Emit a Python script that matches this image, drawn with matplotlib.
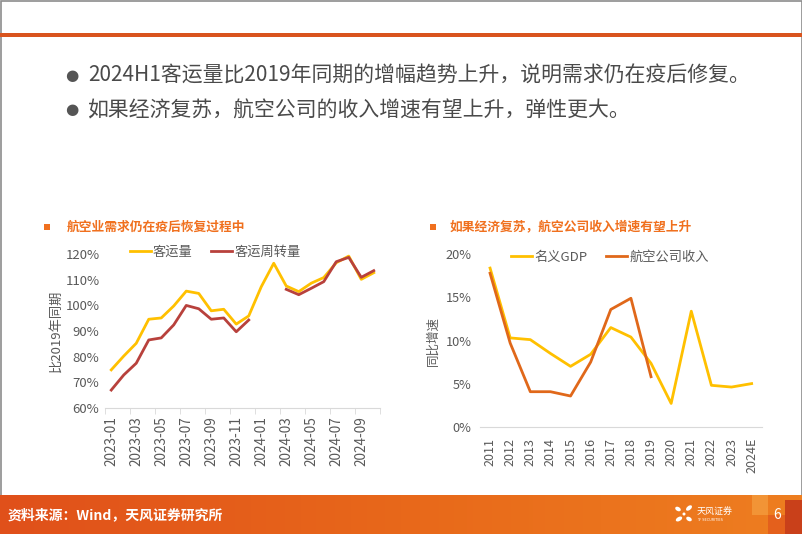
import numpy as np
import matplotlib
matplotlib.use('Agg')
import matplotlib.pyplot as plt
from matplotlib.patches import Rectangle, Ellipse

plt.rcParams['font.family'] = ['Noto Sans CJK SC', 'DejaVu Sans']

# left chart: passenger volume vs 2019 (monthly)
months = ['2023-01', '2023-02', '2023-03', '2023-04', '2023-05', '2023-06',
          '2023-07', '2023-08', '2023-09', '2023-10', '2023-11', '2023-12',
          '2024-01', '2024-02', '2024-03', '2024-04', '2024-05', '2024-06',
          '2024-07', '2024-08', '2024-09', '2024-10']
passengers = [74.8, 80.2, 85.2, 94.6, 95.1, 99.8, 105.6, 104.7, 97.9, 98.5, 92.7, 95.9,
              107.3, 116.5, 107.6, 105.4, 108.7, 110.9, 116.7, 119.3, 110.2, 112.8]
rpk = [66.9, 72.8, 77.4, 86.5, 87.3, 92.4, 100.0, 98.7, 94.6, 95.1, 89.7, 94.3,
       np.nan, np.nan, 106.3, 104.2, 106.7, 109.3, 117.1, 118.8, 111.0, 113.6]

# right chart: nominal GDP growth vs airline revenue growth
years = ['2011', '2012', '2013', '2014', '2015', '2016', '2017', '2018', '2019',
         '2020', '2021', '2022', '2023', '2024E']
gdp = [18.4, 10.3, 10.1, 8.5, 7.0, 8.4, 11.5, 10.4, 7.35, 2.7, 13.4, 4.8, 4.6, 5.0]
airline = [17.8, 9.7, 4.06, 4.06, 3.56, 7.5, 13.6, 14.9, 5.8,
           np.nan, np.nan, np.nan, np.nan, np.nan]

W, H = 802, 534
fig = plt.figure(figsize=(W / 100, H / 100), dpi=100)

# background layer in pixel coords
bg = fig.add_axes([0, 0, 1, 1], zorder=-1)
bg.set_xlim(0, W)
bg.set_ylim(H, 0)
bg.axis('off')

bg.add_patch(Rectangle((0.5, 0.5), W - 1, H - 1, fill=False, edgecolor='#8c8c8c', lw=1.2))
bg.add_patch(Rectangle((0, 33), W, 4, color='#D9541E', lw=0))

grad = np.linspace(0, 1, 256).reshape(1, -1)
cmap = matplotlib.colors.LinearSegmentedColormap.from_list('ft', ['#E0501A', '#E8681A', '#EE7E20'])
bg.imshow(grad, extent=(0, W, H, 495), aspect='auto', cmap=cmap, zorder=1)
bg.add_patch(Rectangle((752, 495), 16, 20, color='#F29436', lw=0, zorder=2))
bg.add_patch(Rectangle((768, 515), 17, 19, color='#E4601C', lw=0, zorder=2))
bg.add_patch(Rectangle((785, 500), 17, 34, color='#C9401A', lw=0, zorder=2))
bg.text(8, 515, '资料来源：Wind，天风证券研究所', color='white', fontsize=10,
        fontweight='bold', va='center', ha='left', zorder=3)
bg.text(777, 515, '6', color='white', fontsize=10, va='center', ha='center', zorder=3)
# logo
for dx, dy, w, h, a in [(-6, -5, 6, 4, 30), (5, -6, 7, 4, -40), (-5, 5, 7, 4, -30),
                        (5, 5, 6, 4, 30), (0, 0, 3, 3, 0)]:
    bg.add_patch(Ellipse((684 + dx, 514 + dy), w, h, angle=a, color='white', lw=0, zorder=3))
bg.text(697, 511, '天风证券', color='white', fontsize=6.5, va='center', ha='left', zorder=3)
bg.text(697, 520, 'TF SECURITIES', color='white', fontsize=2.5, va='center', ha='left',
        zorder=3, family='DejaVu Sans')

# bullets
bullets = ['2024H1客运量比2019年同期的增幅趋势上升，说明需求仍在疫后修复。',
           '如果经济复苏，航空公司的收入增速有望上升，弹性更大。']
for yy, txt in zip([76, 110], bullets):
    bg.text(72, yy, '●', color='#555555', fontsize=11, va='center', ha='center',
            family='DejaVu Sans')
    bg.text(88, yy, txt, color='#4a4a4a', fontsize=15, va='center', ha='left')

# chart titles
title_col = '#F0701E'
bg.add_patch(Rectangle((44, 224), 6, 6, color=title_col, lw=0))
bg.text(67, 227, '航空业需求仍在疫后恢复过程中', color=title_col, fontsize=9.2,
        fontweight='bold', va='center', ha='left')
bg.add_patch(Rectangle((430, 224), 6, 6, color=title_col, lw=0))
bg.text(450, 227, '如果经济复苏，航空公司收入增速有望上升', color=title_col, fontsize=9.2,
        fontweight='bold', va='center', ha='left')

grey = '#595959'
axis_col = '#D9D9D9'

# left chart
ax1 = fig.add_axes([105 / W, 1 - 407.7 / H, 275 / W, 153.4 / H])
x1 = np.arange(len(months))
ax1.plot(x1, passengers, color='#FFC000', lw=2, label='客运量')
ax1.plot(x1, rpk, color='#B8413C', lw=2, label='客运周转量')
ax1.set_xlim(-0.5, len(months) - 0.5)
ax1.set_ylim(60, 120)
ax1.set_yticks(np.arange(60, 121, 10))
ax1.set_yticklabels(['{}%'.format(v) for v in range(60, 121, 10)])
ax1.set_xticks(x1[::2])
ax1.set_xticklabels(months[::2], rotation=90)
ax1.set_xticks(np.arange(-0.5, len(months), 2), minor=True)
ax1.tick_params(axis='x', which='major', length=0, pad=6, labelsize=9.8, colors=grey)
ax1.tick_params(axis='x', which='minor', length=4, color=axis_col)
ax1.tick_params(axis='y', length=0, labelsize=9.5, colors=grey, pad=4)
ax1.set_ylabel('比2019年同期', fontsize=9.5, color=grey, labelpad=2)
for s in ['top', 'right', 'left']:
    ax1.spines[s].set_visible(False)
ax1.spines['bottom'].set_color(axis_col)
ax1.legend(loc='center', bbox_to_anchor=(215 / W, 1 - 252 / H), bbox_transform=fig.transFigure,
           ncol=2, frameon=False, fontsize=9.5, handlelength=1.6, handletextpad=0.15,
           columnspacing=1.4, labelcolor=grey)

# right chart
ax2 = fig.add_axes([480 / W, 1 - 426.7 / H, 281.7 / W, 172.4 / H])
x2 = np.arange(len(years))
ax2.plot(x2, gdp, color='#FFC000', lw=2, label='名义GDP')
ax2.plot(x2, airline, color='#E0681A', lw=2, label='航空公司收入')
ax2.set_xlim(-0.5, len(years) - 0.5)
ax2.set_ylim(0, 20)
ax2.set_yticks(np.arange(0, 21, 5))
ax2.set_yticklabels(['{}%'.format(v) for v in range(0, 21, 5)])
ax2.set_xticks(x2)
ax2.set_xticklabels(years, rotation=90)
ax2.tick_params(axis='x', length=0, pad=8, labelsize=9, colors=grey)
ax2.tick_params(axis='y', length=0, labelsize=9.2, colors=grey, pad=6)
ax2.set_ylabel('同比增速', fontsize=9, color=grey, labelpad=4)
for s in ['top', 'right', 'left']:
    ax2.spines[s].set_visible(False)
ax2.spines['bottom'].set_color(axis_col)
ax2.legend(loc='center', bbox_to_anchor=(610 / W, 1 - 257 / H), bbox_transform=fig.transFigure,
           ncol=2, frameon=False, fontsize=9.5, handlelength=1.6, handletextpad=0.15,
           columnspacing=1.4, labelcolor=grey)

fig.savefig('out.png', dpi=100)
